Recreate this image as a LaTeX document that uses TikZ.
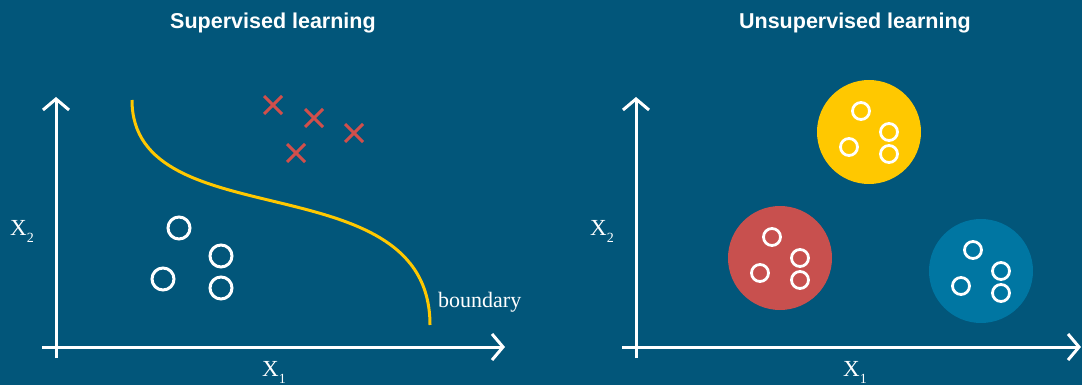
\documentclass[tikz,border=0pt]{standalone}
\usepackage{fontspec}
\setmainfont{Liberation Serif}
\newfontfamily\titlefont{Liberation Sans}
\usetikzlibrary{arrows.meta}
\definecolor{bg}{HTML}{02567A}
\definecolor{ared}{HTML}{D14F4B}
\definecolor{ayel}{HTML}{FFC800}
\definecolor{cred}{HTML}{C8504E}
\definecolor{cblue}{HTML}{0076A2}
\newcommand{\xlab}[1]{{\fontsize{23}{23}\selectfont X}{\fontsize{14}{14}\selectfont\raisebox{-7pt}{#1}}}
\tikzset{
  axis/.style={draw=white, line width=3pt, -{Straight Barb[length=11pt,width=26pt,line width=3pt]}},
  pt/.style={circle, draw=white, line width=3pt, minimum size=22pt, inner sep=0pt},
  spt/.style={circle, draw=white, line width=2.8pt, minimum size=17pt, inner sep=0pt},
  cross/.style={draw=ared, line width=3pt},
  cluster/.style={circle, minimum size=104pt, inner sep=0pt},
  ttl/.style={text=white, font=\titlefont\bfseries\fontsize{21.5}{21.5}\selectfont},
  lab/.style={text=white, inner sep=0pt}
}
\begin{document}
\begin{tikzpicture}[x=1pt,y=-1pt]
\fill[bg] (0,0) rectangle (1082,385);
\useasboundingbox (0,0) rectangle (1082,385);
% titles
\node[ttl] (t1) at (273,23) {Supervised learning};
\node[ttl] (t2) at (855,23) {Unsupervised learning};
% left axes
\coordinate (ly0) at (56,358);
\coordinate (ly1) at (56,97);
\coordinate (lx0) at (42,347);
\coordinate (lx1) at (505,347);
\draw[axis] (ly0) -- (ly1);
\draw[axis] (lx0) -- (lx1);
\node[lab] (lx2) at (22,231) {\xlab{2}};
\node[lab] (lx1l) at (274,372) {\xlab{1}};
% right axes
\coordinate (ry0) at (636,358);
\coordinate (ry1) at (636,97);
\coordinate (rx0) at (622,347);
\coordinate (rx1) at (1081,347);
\draw[axis] (ry0) -- (ry1);
\draw[axis] (rx0) -- (rx1);
\node[lab] (rx2) at (602,231) {\xlab{2}};
\node[lab] (rx1l) at (855,372) {\xlab{1}};
% crosses
\foreach \n/\x/\y in {c1/273/105, c2/314/118, c3/354/133, c4/296/153}{
  \coordinate (\n) at (\x,\y);
  \draw[cross] ([shift={(-9,-9)}]\n) -- ([shift={(9,9)}]\n);
  \draw[cross] ([shift={(-9,9)}]\n) -- ([shift={(9,-9)}]\n);
}
% white points
\node[pt] (p1) at (179,228) {};
\node[pt] (p2) at (221,256) {};
\node[pt] (p3) at (163,279) {};
\node[pt] (p4) at (221,288) {};
% boundary
\coordinate (b0) at (132,100);
\coordinate (b1) at (430,325);
\draw[ayel, line width=3pt] (b0) .. controls (132,240) and (430,160) .. (b1);
\node[lab, anchor=west, font=\fontsize{22}{22}\selectfont] (bl) at (438,302) {boundary};
% clusters
\node[cluster, fill=ayel] (ky) at (869,132) {};
\node[cluster, fill=cred] (kr) at (780,258) {};
\node[cluster, fill=cblue] (kb) at (981,271) {};
\foreach \k/\cx/\cy in {y/869/132, r/780/258, b/981/271}{
  \node[spt] (\k1) at (\cx-8,\cy-21) {};
  \node[spt] (\k2) at (\cx+20,\cy) {};
  \node[spt] (\k3) at (\cx-20,\cy+15) {};
  \node[spt] (\k4) at (\cx+20,\cy+22) {};
}
\end{tikzpicture}
\end{document}
